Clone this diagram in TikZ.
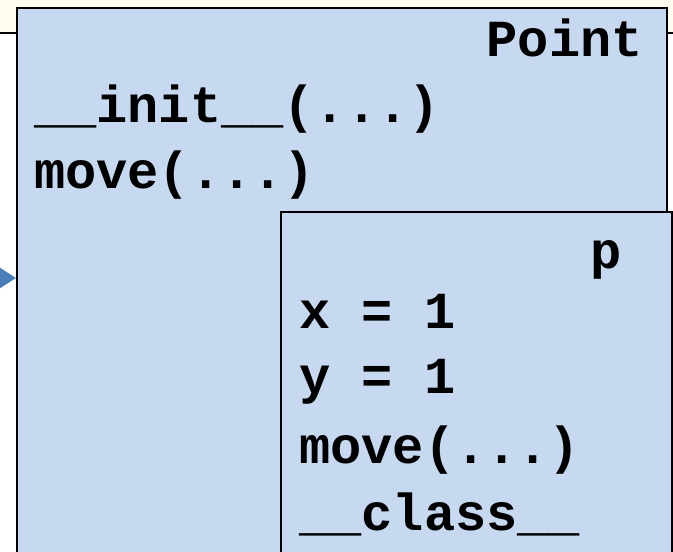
\documentclass[tikz,border=0pt]{standalone}
\usepackage{fontspec}
\setmonofont{Liberation Mono}
\usetikzlibrary{arrows.meta}
\definecolor{boxblue}{HTML}{C6D9F1}
\definecolor{cream}{HTML}{FEFDF0}
\definecolor{arrowblue}{HTML}{4A7EBB}
\begin{document}
\begin{tikzpicture}[x=1pt,y=-1pt,
  frame/.style={draw=black,line width=2.6pt,fill=boxblue},
  code/.style={inner sep=0pt,font=\fontsize{52}{60}\selectfont\ttfamily\bfseries}]
  \useasboundingbox (0,0) rectangle (673,552);
  \clip (0,0) rectangle (673,552);
  % slide background
  \fill[cream] (0,0) rectangle (673,33);
  \draw[line width=2.4pt] (0,33) -- (673,33);
  % class object
  \path[frame] (17,8) rectangle (667,580);
  \node[code,anchor=base east] (clsname) at (643,56) {Point};
  \node[code,anchor=base west] (clsinit) at (34,122) {\_\_init\_\_(...)};
  \node[code,anchor=base west] (clsmove) at (34,188) {move(...)};
  % instance object
  \path[frame] (281,212) rectangle (672,580);
  \node[code,anchor=base east] (objname) at (622,268) {p};
  \node[code,anchor=base west] (objx) at (299,328) {x = 1};
  \node[code,anchor=base west] (objy) at (299,393) {y = 1};
  \node[code,anchor=base west] (objmove) at (299,463) {move(...)};
  \node[code,anchor=base west] (objcls) at (299,530) {\_\_class\_\_};
  % reference into the class
  \coordinate (src) at (-40,278);
  \coordinate (clsin) at (16,278);
  \draw[arrowblue,line width=4pt,-{Triangle[length=18pt,width=22pt]}] (src) -- (clsin);
\end{tikzpicture}
\end{document}
